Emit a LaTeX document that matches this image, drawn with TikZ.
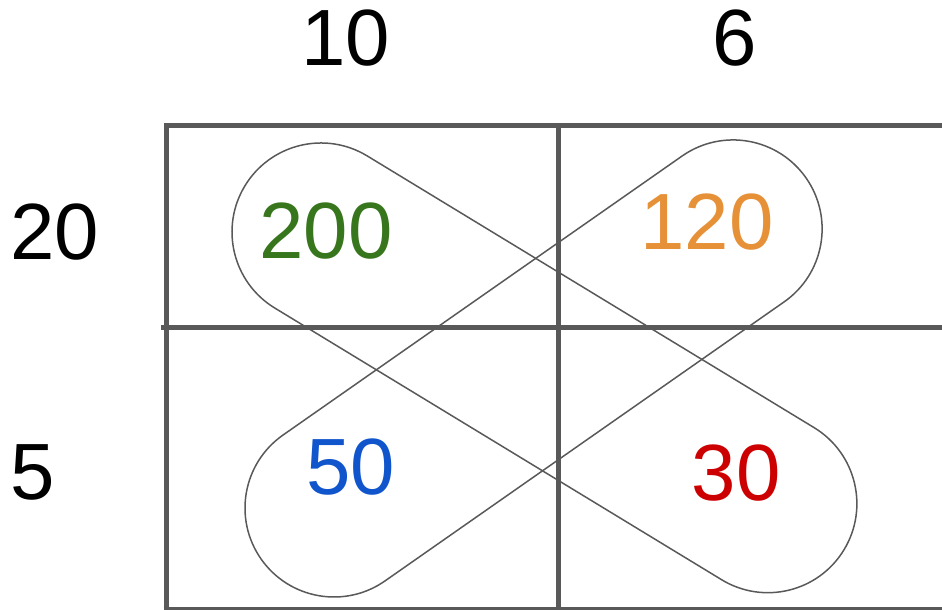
\documentclass[tikz,border=0pt]{standalone}
\usepackage{fontspec}
\setmainfont{Liberation Sans}
\usetikzlibrary{calc}
\definecolor{gridgrey}{HTML}{595959}
\definecolor{darkgreen}{HTML}{38761D}
\definecolor{darkorange}{HTML}{E69138}
\definecolor{darkblue}{HTML}{1155CC}
\definecolor{darkred}{HTML}{CC0000}
\begin{document}
\begin{tikzpicture}[
  every node/.style={font=\fontsize{22.7}{27}\selectfont, inner sep=0pt},
  rand/.style={line width=0.05cm, draw=gridgrey},
  lus/.style={line width=0.015cm, draw=gridgrey},
  kop/.style={text=black},
  cel/.style={}
]
\useasboundingbox (0,0) rectangle (9.42,6.1);
% raster
\draw[rand] (1.66,0) -- (1.66,4.84) -- (9.42,4.84);
\draw[rand] (1.61,2.82) -- (9.42,2.82);
\draw[rand] (5.58,0) -- (5.58,4.84);
\draw[rand] (1.635,0.0) -- (9.42,0.0);
% lussen
\begin{scope}[shift={(3.21,3.78)}, rotate=-31.3]
  \draw[lus] (0,0.89) -- (5.23,0.89) arc[start angle=90, end angle=-90, radius=0.89]
    -- (0,-0.89) arc[start angle=270, end angle=90, radius=0.89] -- cycle;
\end{scope}
\begin{scope}[shift={(3.34,1.02)}, rotate=34.96]
  \draw[lus] (0,0.89) -- (4.87,0.89) arc[start angle=90, end angle=-90, radius=0.89]
    -- (0,-0.89) arc[start angle=270, end angle=90, radius=0.89] -- cycle;
\end{scope}
% koppen
\node[kop] (k10) at (3.46,5.72) {10};
\node[kop] (k6) at (7.35,5.72) {6};
\node[kop] (k20) at (0.55,3.78) {20};
\node[kop] (k5) at (0.33,1.38) {5};
% cellen
\node[cel, text=darkgreen] (c200) at (3.26,3.79) {200};
\node[cel, text=darkorange] (c120) at (7.07,3.88) {120};
\node[cel, text=darkblue] (c50) at (3.51,1.43) {50};
\node[cel, text=darkred] (c30) at (7.36,1.37) {30};
\end{tikzpicture}
\end{document}
